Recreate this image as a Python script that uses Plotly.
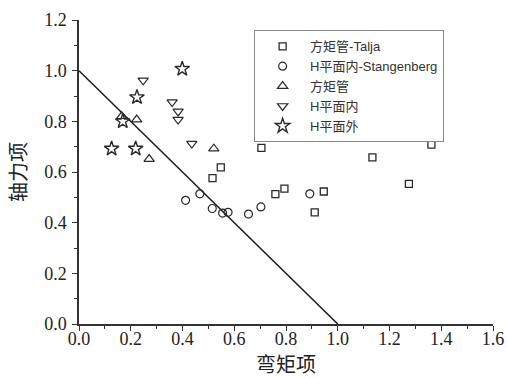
import plotly.graph_objects as go

# Data
sq_x = [0.705, 0.548, 0.516, 0.759, 0.794, 0.946, 0.911, 1.134, 1.275, 1.362]
sq_y = [0.695, 0.618, 0.576, 0.513, 0.534, 0.523, 0.441, 0.658, 0.553, 0.708]

ci_x = [0.412, 0.467, 0.515, 0.555, 0.576, 0.655, 0.703, 0.892]
ci_y = [0.488, 0.514, 0.456, 0.438, 0.441, 0.434, 0.462, 0.514]

tu_x = [0.165, 0.223, 0.271, 0.521]
tu_y = [0.820, 0.807, 0.651, 0.692]

td_x = [0.248, 0.360, 0.383, 0.383, 0.436]
td_y = [0.962, 0.876, 0.839, 0.807, 0.712]

st_x = [0.399, 0.224, 0.169, 0.126, 0.219]
st_y = [1.007, 0.895, 0.800, 0.692, 0.692]

line_x = [0.0, 1.0]
line_y = [1.0, 0.0]

names = ["方矩管-Talja", "H平面内-Stangenberg", "方矩管", "H平面内", "H平面外"]

mc = "#2a2a2a"
fig = go.Figure()
fig.add_trace(go.Scatter(x=line_x, y=line_y, mode="lines",
                         line=dict(color="#1a1a1a", width=1.5), showlegend=False))
fig.add_trace(go.Scatter(x=sq_x, y=sq_y, mode="markers", name=names[0],
                         marker=dict(symbol="square-open", size=7, color=mc, line=dict(width=1.3))))
fig.add_trace(go.Scatter(x=ci_x, y=ci_y, mode="markers", name=names[1],
                         marker=dict(symbol="circle-open", size=8, color=mc, line=dict(width=1.2))))
fig.add_trace(go.Scatter(x=tu_x, y=tu_y, mode="markers", name=names[2],
                         marker=dict(symbol="triangle-up-open", size=9, color=mc, line=dict(width=1.2))))
fig.add_trace(go.Scatter(x=td_x, y=td_y, mode="markers", name=names[3],
                         marker=dict(symbol="triangle-down-open", size=9, color=mc, line=dict(width=1.2))))
fig.add_trace(go.Scatter(x=st_x, y=st_y, mode="markers", name=names[4],
                         marker=dict(symbol="star-open", size=11, color=mc, line=dict(width=1.4))))

tickfont = dict(family="Liberation Serif, serif", size=18, color="#222")
titlefont = dict(family="Noto Sans CJK SC", size=20, color="#222")

fig.update_layout(
    width=507, height=378,
    margin=dict(l=79, r=14, t=20, b=54),
    paper_bgcolor="white", plot_bgcolor="white",
    legend=dict(x=0.423, y=0.966, xanchor="left", yanchor="top",
                bordercolor="#888", borderwidth=1, bgcolor="white",
                itemwidth=45,
                font=dict(family="Liberation Sans, Noto Sans CJK SC", size=13, color="#333"),
                tracegroupgap=0),
)
fig.update_xaxes(range=[0, 1.6], tickvals=[0, 0.2, 0.4, 0.6, 0.8, 1.0, 1.2, 1.4, 1.6],
                 ticktext=["0.0", "0.2", "0.4", "0.6", "0.8", "1.0", "1.2", "1.4", "1.6"],
                 showline=True, linecolor="#333", linewidth=1.5, ticks="outside", ticklen=5,
                 tickcolor="#333", showgrid=False, zeroline=False, tickfont=tickfont,
                 automargin=False, ticklabelstandoff=-7,
                 minor=dict(dtick=0.1, ticks="outside", ticklen=3, tickcolor="#333"),
                 title=dict(text="弯矩项", font=titlefont, standoff=0))
fig.update_yaxes(range=[0, 1.2], tickvals=[0, 0.2, 0.4, 0.6, 0.8, 1.0, 1.2],
                 ticktext=["0.0", "0.2", "0.4", "0.6", "0.8", "1.0", "1.2"],
                 showline=True, linecolor="#333", linewidth=1.5, ticks="outside", ticklen=5,
                 tickcolor="#333", showgrid=False, zeroline=False, tickfont=tickfont,
                 automargin=False, ticklabelstandoff=2,
                 minor=dict(dtick=0.1, ticks="outside", ticklen=3, tickcolor="#333"),
                 title=dict(text="轴力项", font=titlefont, standoff=12))

fig.write_html("out.html", config={"displayModeBar": False},
               post_script="document.body.style.margin='0';document.body.style.overflow='hidden';")
